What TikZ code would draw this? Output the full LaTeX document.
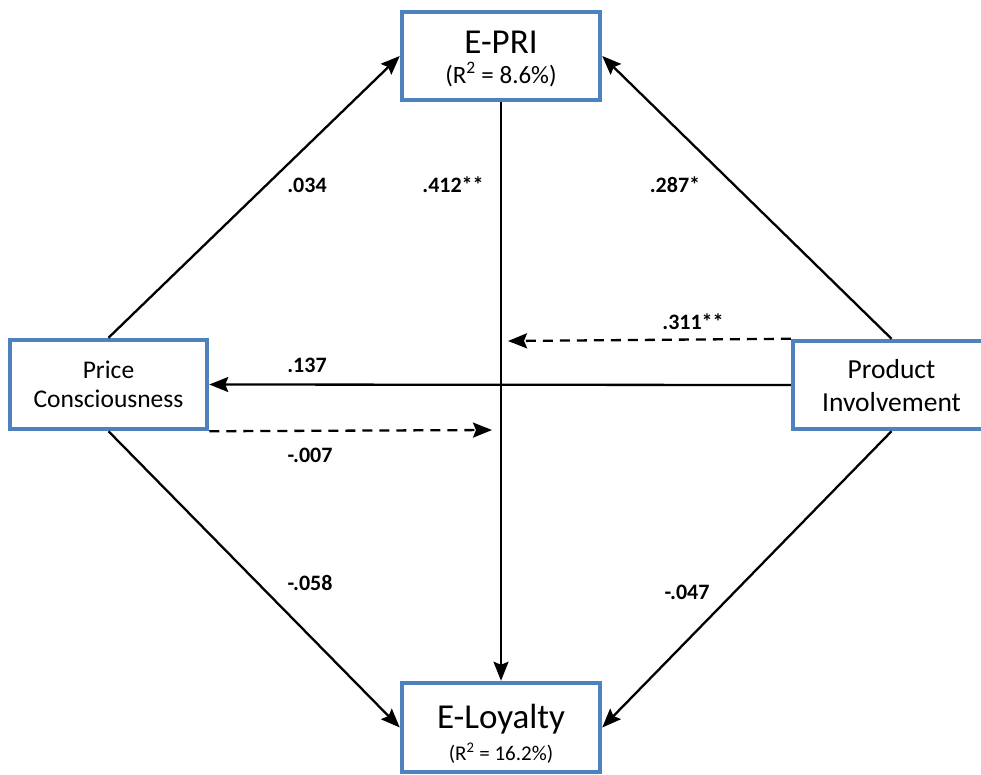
\documentclass[tikz,border=0pt]{standalone}
\usepackage{fontspec}
\setmainfont{Carlito}
\usetikzlibrary{arrows.meta}
\definecolor{boxblue}{HTML}{4F81BD}
\tikzset{
  box/.style={draw=boxblue, line width=4.5pt, fill=white, inner sep=0pt},
  txt/.style={anchor=base, inner sep=0pt},
  arr/.style={line width=2.3pt, -{Stealth[length=19pt,width=15pt,inset=3pt]}},
  darr/.style={arr, dash pattern=on 10pt off 7pt},
  coef/.style={inner sep=0pt, font=\fontsize{22}{24}\selectfont\bfseries},
}
\begin{document}
\begin{tikzpicture}[x=1pt,y=-1pt]
\useasboundingbox (0,0) rectangle (981,774);
% boxes
\node[box, minimum width=198pt, minimum height=88pt] (EPRI) at (501,56) {};
\node[box, minimum width=198pt, minimum height=89pt] (EL) at (501,727.5) {};
\node[box, minimum width=197pt, minimum height=89pt] (PC) at (108.5,384.5) {};
\node[box, minimum width=197pt, minimum height=88pt] (PI) at (891.5,385) {};
% box texts
\node[txt, font=\fontsize{35}{36}\selectfont] (t1) at (501,53.5) {E-PRI};
\node[txt, font=\fontsize{25}{26}\selectfont] (t2) at (501,83) {(R\textsuperscript{2} = 8.6\%)};
\node[txt, font=\fontsize{35}{36}\selectfont] (t3) at (501,728) {E-Loyalty};
\node[txt, font=\fontsize{21}{22}\selectfont] (t4) at (501,760) {(R\textsuperscript{2} = 16.2\%)};
\node[txt, font=\fontsize{25.5}{26}\selectfont] (t5) at (108.5,378) {Price};
\node[txt, font=\fontsize{25.5}{26}\selectfont] (t6) at (108.5,407) {Consciousness};
\node[txt, font=\fontsize{27.5}{28}\selectfont] (t7) at (891.5,378) {Product};
\node[txt, font=\fontsize{27.5}{28}\selectfont] (t8) at (891.5,411.5) {Involvement};
% free ends of dashed arrows
\coordinate (d1) at (508,341);
\coordinate (d2) at (492,430);
% connectors
\draw[arr] (PC.north) -- (EPRI.west);
\draw[arr] (PI.north) -- (EPRI.east);
\draw[arr] (PC.south) -- (EL.west);
\draw[arr] (PI.south) -- (EL.east);
\draw[arr] (EPRI.south) -- (EL.north);
\draw[arr] (PI.west) -- (PC.east);
\draw[darr] (PI.north west) -- (d1);
\draw[darr] (PC.south east) -- (d2);
% coefficients
\node[coef] (c1) at (307,185) {.034};
\node[coef] (c2) at (453,185) {.412**};
\node[coef] (c3) at (675,185) {.287*};
\node[coef] (c4) at (693,322) {.311**};
\node[coef] (c5) at (307,365) {.137};
\node[coef] (c6) at (310,455) {-.007};
\node[coef] (c7) at (310,583) {-.058};
\node[coef] (c8) at (687,592) {-.047};
\end{tikzpicture}
\end{document}
